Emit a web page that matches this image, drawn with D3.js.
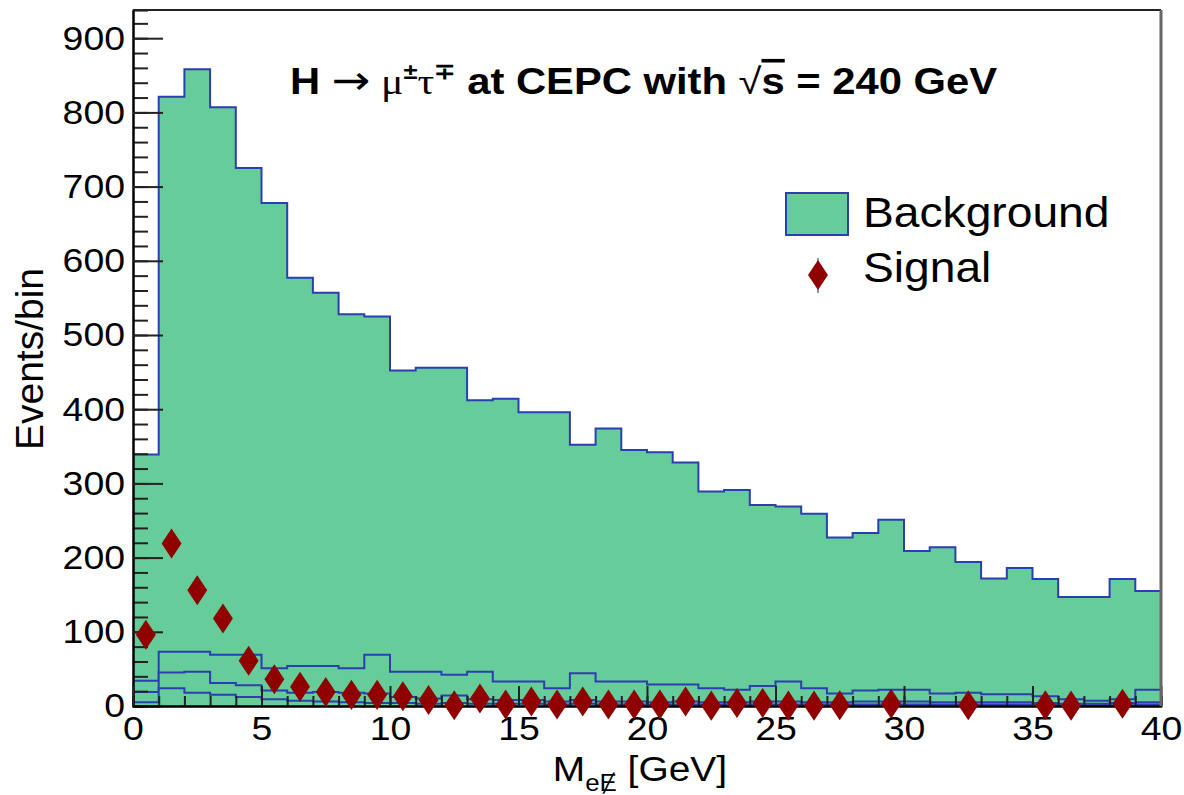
<!DOCTYPE html>
<html>
<head>
<meta charset="utf-8">
<script src="https://cdn.jsdelivr.net/npm/d3@7"></script>
<style>
body{margin:0;background:#fff;}
svg text{font-family:"Liberation Sans",Arial,Helvetica,sans-serif;fill:#000;}
.yAxis text{transform-box:fill-box;transform-origin:right center;transform:scaleX(1.1);}
.xAxis text{transform-box:fill-box;transform-origin:center center;transform:scaleX(1.1);}
</style>
</head>
<body>
<svg id="chart"></svg>
<script>
// bins of M (1 GeV wide), lower edges
var bins = d3.range(0, 40);

// stacked background components (events per bin), bottom to top
var bkgA = [5,24,18,15,12,9,7,6,5,4,4,3,4,3,3,3,2,3,2,2,2,2,2,2,2,2,2,2,2,2,2,2,2,2,2,2,1,1,1,2];
var bkgB = [14,21,28,16,16,12,11,13,13,13,8,7,10,6,5,5,4,5,4,4,3,4,3,3,4,4,3,3,4,4,4,3,3,3,3,2,2,2,3,3];
var bkgC = [15,28,27,38,41,30,36,35,33,52,34,36,28,37,25,25,18,36,27,27,24,23,19,17,21,27,19,12,15,16,16,12,13,11,11,9,6,4,5,17];
var bkgD = [305,748,785,738,656,627,523,503,477,456,406,410,414,366,381,363,372,308,341,312,313,299,265,269,244,236,235,210,212,229,187,197,176,156,170,158,138,140,162,133];

// signal (null = empty bin, not drawn)
var signal = [96,219,156,118,61,36,26,19,15,15,13,8,1,10,2,6,2,6,2,2,2,6,0.5,4,4,0.5,0.5,1,null,3,null,null,1,null,null,1,0.5,null,3,null];

var xMajor = [0,5,10,15,20,25,30,35,40];
var yMajor = [0,100,200,300,400,500,600,700,800,900];

var W = 1184, H = 795;
var margins = {left:133, right:23, top:10, bottom:89};
var green = "#66cc99", blue = "#2b3fb0", red = "#900000";

var svg = d3.select("svg#chart")
            .attr("width", W)
            .attr("height", H);

var xScale = d3.scaleLinear()
               .domain([0,40])
               .range([margins.left, W-margins.right]);
var yScale = d3.scaleLinear()
               .domain([0,938])
               .range([H-margins.bottom, margins.top]);

svg.append("clipPath").attr("id","plotClip")
   .append("rect")
   .attr("x", margins.left).attr("y", margins.top)
   .attr("width", W-margins.left-margins.right)
   .attr("height", H-margins.top-margins.bottom);

// stacked background
var table = bins.map(function(b,i){
  return {bin:b, a:bkgA[i], b:bkgB[i], c:bkgC[i], d:bkgD[i]};
});
var layers = d3.stack().keys(["a","b","c","d"])(table);

var stepLine = d3.line()
                 .curve(d3.curveStepAfter)
                 .x(function(p){ return xScale(p[0]); })
                 .y(function(p){ return yScale(p[1]); });

function outline(layer){
  var pts = [[0,0]];
  layer.forEach(function(d){ pts.push([d.data.bin, d[1]]); });
  var last = layer[layer.length-1];
  pts.push([last.data.bin+1, last[1]]);
  pts.push([last.data.bin+1, 0]);
  return stepLine(pts);
}

svg.append("g")
   .attr("clip-path","url(#plotClip)")
   .selectAll("path")
   .data(layers.slice().reverse())
   .enter()
   .append("path")
   .attr("d", outline)
   .attr("fill", green)
   .attr("stroke", blue)
   .attr("stroke-width", 2);

// axes (ROOT style, ticks inside)
var yAxis = d3.axisLeft(yScale).tickValues(yMajor).tickSize(-30).tickSizeOuter(0).tickPadding(8);
var yMinor = d3.axisLeft(yScale).tickValues(d3.range(0,938,20)).tickSize(-15).tickFormat("");
var xAxis = d3.axisBottom(xScale).tickValues(xMajor).tickSize(-20).tickSizeOuter(0).tickPadding(10);
var xMinor = d3.axisBottom(xScale).tickValues(bins.concat([40])).tickSize(-10).tickFormat("");

svg.append("g").classed("yMinor",true)
   .attr("transform","translate("+margins.left+",0)")
   .call(yMinor);
svg.append("g").classed("xMinor",true)
   .attr("transform","translate(0,"+(H-margins.bottom)+")")
   .call(xMinor);
svg.append("g").classed("yAxis",true)
   .attr("transform","translate("+margins.left+",0)")
   .call(yAxis);
svg.append("g").classed("xAxis",true)
   .attr("transform","translate(0,"+(H-margins.bottom)+")")
   .call(xAxis);

svg.selectAll(".yAxis line,.xAxis line,.yMinor line,.xMinor line")
   .attr("stroke","#222").attr("stroke-width",2);
svg.selectAll(".yAxis path,.xAxis path,.yMinor path,.xMinor path")
   .attr("stroke","#000").attr("stroke-width",2);
svg.selectAll(".yAxis text,.xAxis text")
   .attr("font-size",34).attr("font-family",null);

// frame top and right
svg.append("line")
   .attr("x1",margins.left).attr("x2",W-margins.right)
   .attr("y1",margins.top).attr("y2",margins.top)
   .attr("stroke","#222").attr("stroke-width",2);
svg.append("line")
   .attr("x1",W-margins.right).attr("x2",W-margins.right)
   .attr("y1",margins.top).attr("y2",H-margins.bottom)
   .attr("stroke","#666").attr("stroke-width",3);

// signal markers
var diamond = d3.symbol().type(d3.symbolDiamond).size(260);
svg.append("g")
   .selectAll("path")
   .data(bins.filter(function(b,i){ return signal[i] !== null; }))
   .enter()
   .append("path")
   .attr("d", diamond)
   .attr("fill", red)
   .attr("transform", function(b){
     return "translate("+xScale(b+0.5)+","+yScale(signal[b])+") scale(1.15,1)";
   });

// title
var title = svg.append("text")
               .attr("transform","translate(290,94) scale(1.16,1)")
               .attr("font-size",36)
               .attr("font-weight","bold");
title.append("tspan").text("H ");
title.append("tspan").attr("font-weight","normal").attr("font-family","DejaVu Sans").attr("font-size",40).text("\u2192");
title.append("tspan").attr("font-weight","normal").attr("font-family","Liberation Serif").text(" \u03bc");
title.append("tspan").attr("font-size",22).attr("dy",-15).text("\u00b1");
title.append("tspan").attr("font-weight","normal").attr("font-family","Liberation Serif").attr("dy",15).text("\u03c4");
title.append("tspan").attr("font-size",22).attr("dy",-15).text("\u2213");
title.append("tspan").attr("dy",15).text(" at CEPC with ");
title.append("tspan").attr("font-weight","normal").text("\u221a");
title.append("tspan").attr("text-decoration","overline").text("s");
title.append("tspan").text(" = 240 GeV");

// legend
var legend = svg.append("g").classed("legend",true);
legend.append("rect")
      .attr("x",786).attr("y",193).attr("width",62).attr("height",42)
      .attr("fill",green).attr("stroke",blue).attr("stroke-width",2);
legend.append("text")
      .attr("transform","translate(863,227) scale(1.1,1)")
      .attr("font-size",42)
      .text("Background");
legend.append("line")
      .attr("x1",818).attr("x2",818).attr("y1",258).attr("y2",293)
      .attr("stroke","#6670cc").attr("stroke-width",1.5);
legend.append("path")
      .attr("d", diamond)
      .attr("fill", red)
      .attr("transform","translate(818,275) scale(1.15,1)");
legend.append("text")
      .attr("transform","translate(863,282) scale(1.1,1)")
      .attr("font-size",42)
      .text("Signal");

// axis titles
svg.append("text")
   .attr("transform","translate(43,359) rotate(-90)")
   .attr("text-anchor","middle")
   .attr("font-size",39)
   .text("Events/bin");

var xt = svg.append("text")
            .attr("transform","translate(727,781) scale(1.08,1)")
            .attr("text-anchor","end")
            .attr("font-size",36);
xt.append("tspan").text("M");
xt.append("tspan").attr("font-size",24).attr("dy",10).text("e\u0246");
xt.append("tspan").attr("dy",-10).text(" [GeV]");
</script>
</body>
</html>
